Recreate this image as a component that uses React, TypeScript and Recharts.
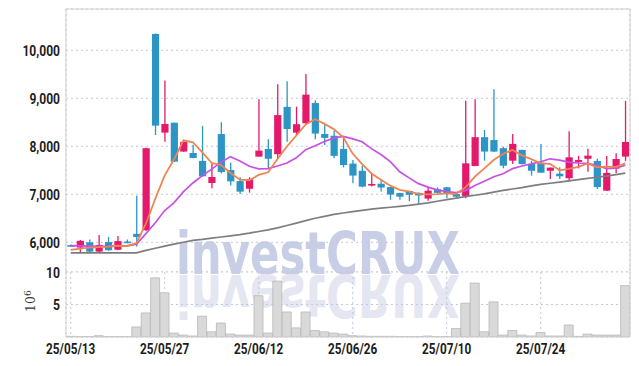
import React from 'react';
import { ComposedChart, Bar, Line, XAxis, YAxis, CartesianGrid } from 'recharts';

const dates = [
  '25/05/13','25/05/14','25/05/15','25/05/16','25/05/19','25/05/20','25/05/21','25/05/22','25/05/23','25/05/26',
  '25/05/27','25/05/28','25/05/29','25/05/30','25/06/02','25/06/04','25/06/05','25/06/09','25/06/10','25/06/11',
  '25/06/12','25/06/13','25/06/16','25/06/17','25/06/18','25/06/19','25/06/20','25/06/23','25/06/24','25/06/25',
  '25/06/26','25/06/27','25/06/30','25/07/01','25/07/02','25/07/03','25/07/04','25/07/07','25/07/08','25/07/09',
  '25/07/10','25/07/11','25/07/14','25/07/15','25/07/16','25/07/17','25/07/18','25/07/21','25/07/22','25/07/23',
  '25/07/24','25/07/25','25/07/28','25/07/29','25/07/30','25/07/31','25/08/01','25/08/04','25/08/05','25/08/06',
];
const tickDates = ['25/05/13', '25/05/27', '25/06/12', '25/06/26', '25/07/10', '25/07/24'];
const priceTicks = [6000, 7000, 8000, 9000, 10000];
const volTicks = [5, 10];

const opens = [
  5940, 5890, 6000, 5805, 6005, 5845, 6015, 6175, 6250, 10340,
  8285, 8490, 7890, 7860, 7695, 7235, 8255, 7505, 7275, 7115,
  7785, 7945, 7835, 8820, 8285, 8480, 8900, 8255, 8220, 7945,
  7640, 7490, 7200, 7220, 7150, 7025, 7070, 7030, 6910, 7105,
  7145, 7005, 6965, 7590, 8190, 8130, 7960, 7700, 7925, 7630,
  7660, 7490, 7430, 7335, 7675, 7740, 7695, 7075, 7535, 7785,
];
const highs = [
  5955, 6050, 6060, 6150, 6110, 6130, 6060, 6970, 7970, 10350,
  9370, 8495, 8130, 8030, 8420, 7645, 8500, 7660, 7355, 7355,
  8980, 8145, 9290, 9355, 8825, 9505, 8960, 8450, 8325, 8200,
  7715, 7595, 7437, 7300, 7155, 7030, 7075, 7035, 7155, 7145,
  7150, 7010, 8950, 8980, 8340, 9190, 7990, 8255, 7930, 7695,
  8050, 7560, 7565, 8315, 7800, 7950, 7740, 7800, 7855, 8945,
];
const lows = [
  5910, 5800, 5800, 5795, 5820, 5840, 5980, 5910, 6240, 8235,
  8095, 7675, 7880, 7750, 7370, 7125, 7435, 7185, 7005, 7035,
  7780, 7540, 7750, 8095, 8230, 8470, 8145, 8025, 7750, 7560,
  7230, 7145, 7160, 7060, 6885, 6885, 6855, 6805, 6865, 7020,
  6915, 6940, 6915, 7585, 7700, 7880, 7540, 7630, 7620, 7390,
  7445, 7320, 7320, 7265, 7540, 7470, 7110, 7070, 7440, 7695,
];
const closes = [
  5930, 6030, 5805, 5945, 5835, 6025, 6005, 6110, 7960, 8430,
  8465, 7680, 8090, 7755, 7375, 7360, 7465, 7270, 7055, 7315,
  7910, 7740, 8650, 8360, 8460, 9075, 8265, 8175, 7800, 7610,
  7390, 7160, 7215, 7140, 6995, 6950, 6990, 6975, 7075, 7030,
  7020, 6950, 7645, 8190, 7890, 7890, 7595, 8050, 7630, 7490,
  7450, 7555, 7375, 7770, 7715, 7805, 7150, 7445, 7735, 8090,
];
const ma5 = [
  5840, 5870, 5890, 5900, 5909, 5928, 5923, 5984, 6387, 6906,
  7394, 7729, 8125, 8084, 7873, 7652, 7609, 7445, 7305, 7293,
  7403, 7458, 7734, 7995, 8224, 8457, 8562, 8467, 8355, 8185,
  7848, 7627, 7434, 7302, 7179, 7091, 7057, 7010, 6997, 7004,
  7018, 7010, 7144, 7367, 7539, 7713, 7842, 7923, 7811, 7731,
  7643, 7635, 7500, 7528, 7573, 7644, 7563, 7577, 7570, 7645,
];
const ma10 = [
  5930, 5925, 5920, 5915, 5915, 5920, 5925, 5960, 6180, 6408,
  6661, 6826, 7055, 7236, 7390, 7523, 7669, 7785, 7695, 7583,
  7528, 7534, 7590, 7650, 7759, 7930, 8010, 8101, 8175, 8205,
  8153, 8095, 7951, 7829, 7682, 7470, 7342, 7222, 7150, 7092,
  7055, 7034, 7077, 7182, 7272, 7366, 7426, 7534, 7589, 7635,
  7678, 7739, 7712, 7670, 7652, 7643, 7599, 7534, 7545, 7605,
];
const ma60 = [
  5780, 5780, 5780, 5780, 5780, 5780, 5780, 5780, 5830, 5875,
  5920, 5960, 6000, 6040, 6060, 6085, 6110, 6135, 6160, 6190,
  6225, 6260, 6300, 6350, 6400, 6450, 6500, 6540, 6580, 6610,
  6640, 6665, 6690, 6710, 6730, 6750, 6770, 6795, 6820, 6855,
  6890, 6920, 6950, 6980, 7010, 7045, 7080, 7110, 7140, 7175,
  7205, 7230, 7255, 7280, 7305, 7330, 7355, 7380, 7410, 7440,
];
const volumes = [
  0.1, 0.05, 0.05, 0.2, 0.05, 0.05, 0.05, 1.55, 3.7, 9.1,
  6.8, 0.6, 0.3, 0.15, 3.2, 0.8, 2.15, 0.45, 0.3, 0.3,
  6.35, 0.6, 8.6, 3.85, 1.4, 3.85, 1.0, 0.8, 0.6, 0.45,
  0.2, 0.15, 0.1, 0.1, 0.1, 0.05, 0.05, 0.05, 0.15, 0.05,
  0.05, 1.3, 5.2, 8.3, 0.8, 5.4, 0.3, 1.0, 0.3, 0.15,
  0.7, 0.15, 0.15, 1.85, 0.1, 0.45, 0.3, 0.3, 0.3, 7.9,
];

const rows = dates.map((date, i) => ({
  date,
  open: opens[i],
  high: highs[i],
  low: lows[i],
  close: closes[i],
  ma5: ma5[i],
  ma10: ma10[i],
  ma60: ma60[i],
  vol: volumes[i],
}));

const UP = '#E5196B';
const DOWN = '#2C95C6';
const GRID = '#C3C9DC';
const BORDER = '#D0D0D0';
const FONT = "Roboto, 'DejaVu Sans Condensed', sans-serif";

const charWidth = (c: string) => (c === '/' ? 3.6 : c === ',' ? 2.6 : 7.0);
const textLen = (s: string) => s.split('').reduce((a, c) => a + charWidth(c), 0);

const AxisTick = (props: any) => {
  const { x, y, payload, side } = props;
  const raw = payload && payload.value;
  const label = typeof raw === 'number' ? raw.toLocaleString('en-US') : String(raw);
  const isX = side === 'x';
  return (
    <text
      x={x}
      y={y}
      dy={isX ? '0.71em' : '0.38em'}
      textAnchor={isX ? 'middle' : 'end'}
      fontFamily={FONT}
      fontWeight={700}
      fontSize={15}
      fill="#1c1c1c"
      textLength={textLen(label)}
      lengthAdjust="spacingAndGlyphs"
    >
      {label}
    </text>
  );
};

const Candle = (props: any) => {
  const { x, y, width, height, payload } = props;
  if (!payload || height == null) return null;
  const { open, close, high, low } = payload;
  const top = Math.min(y, y + height);
  const h = Math.abs(height);
  const px = (v: number) => top + ((high - v) / (high - low || 1)) * h;
  const cx = x + width / 2;
  const up = close >= open;
  const color = up ? UP : DOWN;
  const b1 = px(Math.max(open, close));
  const b2 = px(Math.min(open, close));
  return (
    <g>
      <line x1={cx} x2={cx} y1={top} y2={top + h} stroke={color} strokeWidth={1.3} />
      <rect x={cx - 3.6} y={b1} width={7.2} height={Math.max(1.6, b2 - b1)} fill={color} />
    </g>
  );
};

export default function App() {
  return (
    <div style={{ position: 'absolute', left: 0, top: 0, width: 639, height: 366, background: '#fff' }}>
      <svg width={639} height={366} style={{ position: 'absolute', left: 0, top: 0 }}>
        <text
          x={176}
          y={274}
          fontSize={58}
          fontWeight={700}
          fontFamily="'DejaVu Sans', sans-serif"
          fill="#C8CEE6"
          textLength={284}
          lengthAdjust="spacingAndGlyphs"
        >
          investCRUX
        </text>
        <g transform="translate(0,549) scale(1,-1)">
          <text
            x={176}
            y={274}
            fontSize={58}
            fontWeight={700}
            fontFamily="'DejaVu Sans', sans-serif"
            fill="#E4E6F1"
            textLength={284}
            lengthAdjust="spacingAndGlyphs"
          >
            investCRUX
          </text>
        </g>
      </svg>
      <div style={{ position: 'absolute', left: 0, top: 0 }}>
        <ComposedChart width={639} height={272} data={rows} margin={{ top: 0, right: 0, bottom: 0, left: 0 }}>
          <CartesianGrid stroke={GRID} strokeDasharray="2 3" />
          <XAxis
            dataKey="date"
            orientation="top"
            height={9}
            ticks={tickDates}
            interval={0}
            tick={false}
            tickLine={false}
            axisLine={{ stroke: BORDER }}
          />
          <YAxis
            width={66}
            domain={[5381, 10860]}
            ticks={priceTicks}
            allowDataOverflow
            tickLine={false}
            tickSize={0}
            tickMargin={6}
            axisLine={{ stroke: BORDER }}
            tick={<AxisTick side="y" />}
          />
          <YAxis
            yAxisId="r"
            orientation="right"
            width={9}
            domain={[5381, 10860]}
            tick={false}
            tickLine={false}
            axisLine={{ stroke: BORDER }}
          />
          <Bar dataKey={(d: any) => [d.low, d.high]} shape={<Candle />} isAnimationActive={false} />
          <Line type="linear" dataKey="ma60" stroke="#7E7E7E" strokeWidth={1.7} dot={false} isAnimationActive={false} />
          <Line type="linear" dataKey="ma10" stroke="#C94FE6" strokeWidth={1.7} dot={false} isAnimationActive={false} />
          <Line type="linear" dataKey="ma5" stroke="#EE8450" strokeWidth={1.8} dot={false} isAnimationActive={false} />
        </ComposedChart>
      </div>
      <div style={{ position: 'absolute', left: 0, top: 258 }}>
        <ComposedChart
          width={639}
          height={108}
          data={rows}
          margin={{ top: 14, right: 0, bottom: 0, left: 0 }}
          barCategoryGap={0}
          barGap={0}
        >
          <CartesianGrid stroke={GRID} strokeDasharray="2 3" />
          <XAxis
            dataKey="date"
            ticks={tickDates}
            interval={0}
            height={29}
            tickLine={false}
            tickSize={0}
            tickMargin={6}
            axisLine={{ stroke: BORDER }}
            tick={<AxisTick side="x" />}
          />
          <YAxis
            width={66}
            domain={[0, 10]}
            ticks={volTicks}
            allowDataOverflow
            tickLine={false}
            tickSize={0}
            tickMargin={6}
            axisLine={{ stroke: BORDER }}
            tick={<AxisTick side="y" />}
          />
          <YAxis
            yAxisId="r"
            orientation="right"
            width={9}
            domain={[0, 10]}
            tick={false}
            tickLine={false}
            axisLine={{ stroke: BORDER }}
          />
          <Bar dataKey="vol" fill="#D9D9D9" stroke="#B8B8B8" strokeWidth={0.8} isAnimationActive={false} />
        </ComposedChart>
      </div>
      <svg width={639} height={366} style={{ position: 'absolute', left: 0, top: 0, pointerEvents: 'none' }}>
        <text transform="translate(35,312) rotate(-90)" fontFamily="'DejaVu Serif', serif" fontSize={12.5} fill="#333">
          10
          <tspan dy={-4} fontSize={9}>6</tspan>
        </text>
      </svg>
    </div>
  );
}
